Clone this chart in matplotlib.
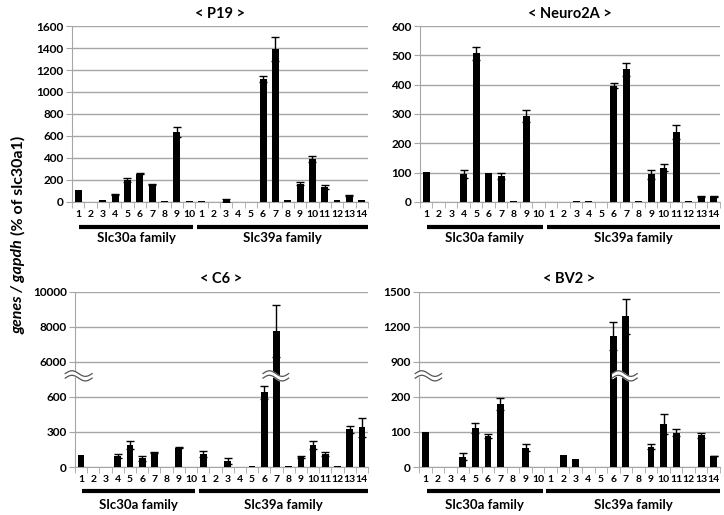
import matplotlib
matplotlib.use('Agg')
import matplotlib.pyplot as plt
import numpy as np

plt.rcParams['font.family'] = ['Lato', 'DejaVu Sans']
plt.rcParams['font.weight'] = 'bold'

# x labels: Slc30a1-10, Slc39a1-14
slc30a_labels = [str(i) for i in range(1, 11)]
slc39a_labels = [str(i) for i in range(1, 15)]

# P19
p19_30a = [105, 0, 15, 70, 200, 255, 160, 8, 640, 8]
p19_30a_err = [0, 0, 0, 5, 15, 5, 5, 0, 45, 0]
p19_39a = [6, 0, 15, 0, 0, 1120, 1390, 15, 165, 390, 136, 15, 60, 15]
p19_39a_err = [0, 0, 12, 0, 0, 28, 108, 0, 15, 24, 20, 0, 6, 0]

# Neuro2A
n2a_30a = [102, 0, 0, 96, 507, 99, 90, 2, 293, 0]
n2a_30a_err = [0, 0, 0, 14, 23, 0, 10, 0, 19, 0]
n2a_39a = [0, 0, 5, 5, 0, 397, 453, 2, 94, 116, 239, 2, 19, 19]
n2a_39a_err = [0, 0, 0, 0, 0, 8, 22, 0, 14, 12, 24, 0, 1, 1]

# C6
c6_30a = [101, 0, 0, 93, 186, 73, 124, 0, 166, 0]
c6_30a_err = [0, 0, 0, 14, 34, 23, 3, 0, 3, 0]
c6_39a = [113, 0, 51, 0, 8, 640, 7750, 8, 87, 186, 110, 8, 321, 338]
c6_39a_err = [28, 0, 22, 0, 0, 55, 1480, 0, 6, 34, 20, 0, 31, 82]

# BV2
bv2_30a = [100, 0, 0, 29, 112, 88, 181, 0, 55, 0]
bv2_30a_err = [0, 0, 0, 10, 14, 5, 17, 0, 10, 0]
bv2_39a = [0, 34, 24, 0, 0, 1117, 1288, 0, 58, 122, 98, 0, 91, 31]
bv2_39a_err = [0, 0, 0, 0, 0, 120, 150, 0, 7, 28, 10, 0, 7, 1]

GRID = '#a6a6a6'


def broken_scale(lo_step, hi_start, hi_step, brk=2.6):
    lo_max = lo_step * brk

    def fwd(y):
        y = np.asarray(y, dtype=float)
        return np.where(y <= lo_max, y / lo_step,
               np.where(y < hi_start, brk + (y - lo_max) / (hi_start - lo_max) * (3 - brk),
                        3 + (y - hi_start) / hi_step))

    def inv(p):
        p = np.asarray(p, dtype=float)
        return np.where(p <= brk, p * lo_step,
               np.where(p < 3, lo_max + (p - brk) / (3 - brk) * (hi_start - lo_max),
                        hi_start + (p - 3) * hi_step))
    return fwd, inv


def draw_break(ax, x0, x1, yfrac):
    xs = np.linspace(x0, x1, 60)
    t = (xs - x0) / (x1 - x0)
    wave = 0.016 * np.sin(2 * np.pi * t)
    top = yfrac + 0.013 + wave
    bot = yfrac - 0.013 + wave
    tr = ax.get_xaxis_transform()
    ax.fill_between(xs, bot, top, transform=tr, color='white', zorder=6, clip_on=False)
    ax.plot(xs, top, color='#555555', lw=0.9, transform=tr, zorder=7, clip_on=False)
    ax.plot(xs, bot, color='#555555', lw=0.9, transform=tr, zorder=7, clip_on=False)


def panel(rect, title, a, a_err, b, b_err, yticks, ylim, fam_y, fwd_inv=None, breaks=()):
    ax = fig.add_axes(rect)
    vals = a + b
    errs = a_err + b_err
    x = np.arange(len(vals))
    if fwd_inv is not None:
        ax.set_yscale('function', functions=fwd_inv)
    ax.bar(x, vals, width=0.55, color='black', zorder=3)
    ex = [i for i in x if errs[i] > 0]
    ax.errorbar(ex, [vals[i] for i in ex], yerr=[errs[i] for i in ex], fmt='none',
                ecolor='black', elinewidth=1, capsize=3, capthick=1, zorder=4)
    ax.set_xlim(-0.5, len(vals) - 0.5)
    ax.set_ylim(*ylim)
    ax.set_yticks(yticks)
    ax.set_yticklabels([str(t) for t in yticks], fontsize=8.5, fontweight='bold')
    ax.yaxis.grid(True, color=GRID, lw=1, zorder=0)
    ax.set_axisbelow(True)
    ax.set_xticks(x)
    ax.set_xticklabels(slc30a_labels + slc39a_labels, fontsize=7.5, fontweight='bold')
    ax.set_xticks(np.arange(-0.5, len(vals)), minor=True)
    ax.tick_params(axis='x', which='major', length=0, pad=6)
    ax.tick_params(axis='x', which='minor', length=4, color=GRID, direction='out')
    ax.tick_params(axis='y', length=4, color=GRID, pad=2)
    for s in ['top', 'right']:
        ax.spines[s].set_visible(False)
    for s in ['left', 'bottom']:
        ax.spines[s].set_color(GRID)
    ax.set_title(title, fontsize=10.5, fontweight='bold', pad=6)
    tr = ax.get_xaxis_transform()
    line_y, text_y = fam_y
    ax.plot([0.1, 9.35], [line_y, line_y], color='black', lw=3, transform=tr, clip_on=False,
            solid_capstyle='butt')
    ax.plot([9.65, 23.5], [line_y, line_y], color='black', lw=3, transform=tr, clip_on=False,
            solid_capstyle='butt')
    ax.text(4.7, text_y, 'Slc30a family', transform=tr, ha='center', va='center',
            fontsize=9.5, fontweight='bold')
    ax.text(16.6, text_y, 'Slc39a family', transform=tr, ha='center', va='center',
            fontsize=9.5, fontweight='bold')
    for bx0, bx1 in breaks:
        draw_break(ax, bx0, bx1, 0.52)
    return ax


fig = plt.figure(figsize=(7.24, 5.15), dpi=100)

panel([0.0994, 0.6078, 0.4088, 0.3417], '< P19 >', p19_30a, p19_30a_err, p19_39a, p19_39a_err,
      [0, 200, 400, 600, 800, 1000, 1200, 1400, 1600], (0, 1600), (-0.142, -0.205))
panel([0.580, 0.6078, 0.4144, 0.3417], '< Neuro2A >', n2a_30a, n2a_30a_err, n2a_39a, n2a_39a_err,
      [0, 100, 200, 300, 400, 500, 600], (0, 600), (-0.142, -0.205))
panel([0.1036, 0.0932, 0.4047, 0.3404], '< C6 >', c6_30a, c6_30a_err, c6_39a, c6_39a_err,
      [0, 300, 600, 6000, 8000, 10000], (0, 10000), (-0.137, -0.215),
      fwd_inv=broken_scale(300, 6000, 2000), breaks=[(-1.3, 0.9), (14.9, 17.0)])
panel([0.5787, 0.0932, 0.4157, 0.3404], '< BV2 >', bv2_30a, bv2_30a_err, bv2_39a, bv2_39a_err,
      [0, 100, 200, 900, 1200, 1500], (0, 1500), (-0.137, -0.215),
      fwd_inv=broken_scale(100, 900, 300), breaks=[(-0.8, 1.3), (14.9, 16.9)])

# y label with italic part, spanning roughly 108..362 px from top
H = fig.bbox.height
t1 = fig.text(0.025, 0.5, 'genes / gapdh', rotation=90, fontsize=11.5,
              fontweight='bold', style='italic', ha='center', va='bottom')
t2 = fig.text(0.025, 0.5, '(% of slc30a1)', rotation=90, fontsize=11.5, fontweight='bold',
              ha='center', va='bottom')
fig.canvas.draw()
h1 = t1.get_window_extent().height
h2 = t2.get_window_extent().height
gap = 4
total = h1 + gap + h2
bottom = (515 - 362) - (total - (362 - 108)) / 2
t1.set_y(bottom / H)
t2.set_y((bottom + h1 + gap) / H)

plt.savefig('out.png', dpi=100)
